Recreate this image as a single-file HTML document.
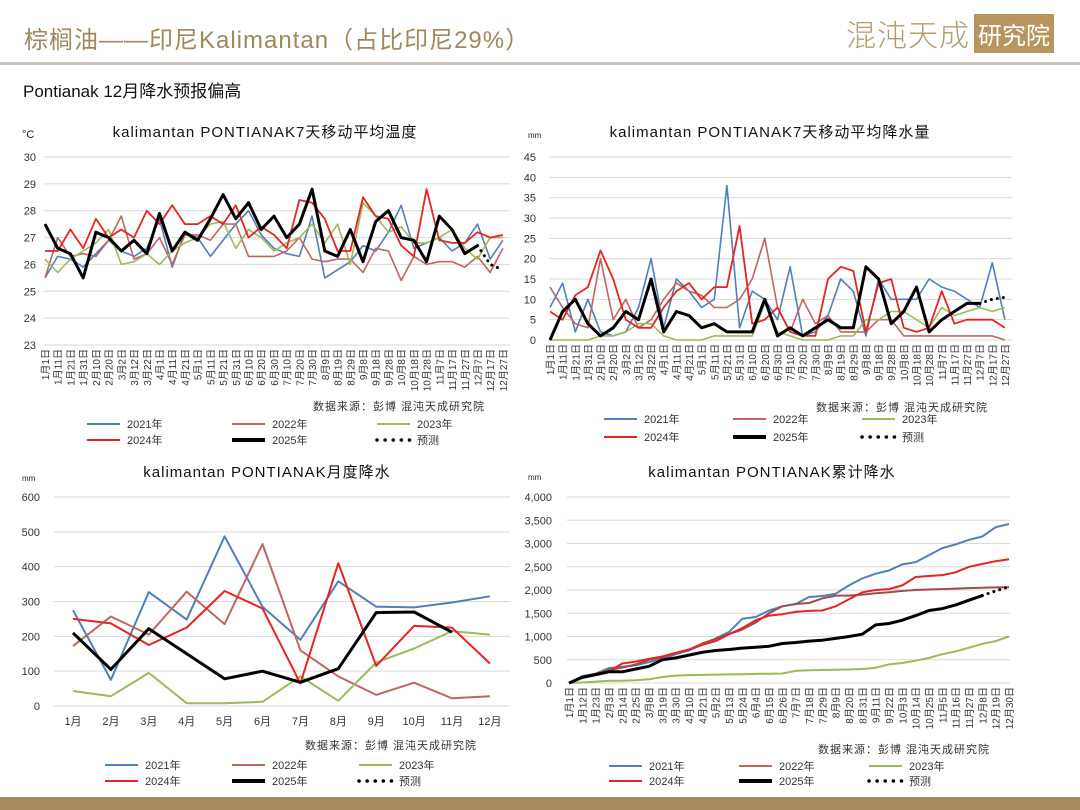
<!DOCTYPE html>
<html><head><meta charset="utf-8">
<style>
html,body{margin:0;padding:0;background:#fff;}
body{width:1080px;height:810px;position:relative;overflow:hidden;font-family:"Liberation Sans","Noto Sans CJK SC",sans-serif;}
#hdr-title{position:absolute;left:24px;top:20px;font-size:24px;color:#a3865a;letter-spacing:1px;font-family:"Liberation Sans","Noto Sans CJK SC",sans-serif;}
#hdr-line{position:absolute;left:0;top:62px;width:1080px;height:3px;background:#c9c5bd;}
#sub{position:absolute;left:23px;top:77px;font-size:17px;color:#111;font-family:"Liberation Sans","Noto Sans CJK SC",sans-serif;}
#logo{position:absolute;left:846px;top:14px;height:38px;display:flex;align-items:center;}
#logo .t{font-size:30px;color:#b89a6c;font-family:"Noto Sans CJK SC",sans-serif;font-weight:300;letter-spacing:1px;}
#logo .b{background:#b8955e;color:#fff;font-size:24px;padding:2px 4px;margin-left:4px;font-family:"Noto Sans CJK SC",sans-serif;}
#foot{position:absolute;left:0;top:797px;width:1080px;height:13px;background:#a88a5e;}
svg{position:absolute;left:0;top:0;}
</style></head><body>
<div id="hdr-title">棕榈油——印尼Kalimantan（占比印尼29%）</div>
<div id="logo"><span class="t">混沌天成</span><span class="b">研究院</span></div>
<div id="hdr-line"></div>
<div id="sub">Pontianak 12月降水预报偏高</div>
<div id="foot"></div>
<svg id="svg" width="1080" height="810" xmlns="http://www.w3.org/2000/svg"></svg>
<script>
// ---------- data ----------
const dailyLabels = ["1月1日","1月11日","1月21日","1月31日","2月10日","2月20日","3月2日","3月12日","3月22日","4月1日","4月11日","4月21日","5月1日","5月11日","5月21日","5月31日","6月10日","6月20日","6月30日","7月10日","7月20日","7月30日","8月9日","8月19日","8月29日","9月8日","9月18日","9月28日","10月8日","10月18日","10月28日","11月7日","11月17日","11月27日","12月7日","12月17日","12月27日"];
const cumLabels = ["1月1日","1月12日","1月23日","2月3日","2月14日","2月25日","3月8日","3月19日","3月30日","4月10日","4月21日","5月2日","5月13日","5月24日","6月4日","6月15日","6月26日","7月7日","7月18日","7月29日","8月9日","8月20日","8月31日","9月11日","9月22日","10月3日","10月14日","10月25日","11月5日","11月16日","11月27日","12月8日","12月19日","12月30日"];
const monthLabels = ["1月","2月","3月","4月","5月","6月","7月","8月","9月","10月","11月","12月"];
const tempTicks = [23,24,25,26,27,28,29,30];
const rainTicks = [0,5,10,15,20,25,30,35,40,45];
const monthTicks = [0,100,200,300,400,500,600];
const cumTicks = [0,500,1000,1500,2000,2500,3000,3500,4000];

const temp2021 = [25.5,26.3,26.2,25.9,26.4,26.9,26.5,26.3,26.6,27.7,25.9,27.2,27.0,26.3,26.9,27.5,28.0,27.1,26.6,26.4,26.3,27.8,25.5,25.8,26.1,26.7,26.5,27.2,28.2,26.6,26.8,27.0,26.5,26.8,27.5,26.2,26.9];
const temp2022 = [25.5,27.0,26.3,26.4,26.3,26.9,27.8,26.2,26.4,27.0,26.0,27.1,27.1,26.9,27.5,27.5,26.3,26.3,26.3,26.5,27.0,26.2,26.1,26.2,26.2,25.7,26.6,26.5,25.4,26.3,26.0,26.1,26.1,25.9,26.3,25.7,26.6];
const temp2023 = [26.2,25.7,26.2,26.5,26.8,27.3,26.0,26.1,26.4,26.0,26.5,26.8,27.0,27.5,27.6,26.6,27.3,27.0,26.5,26.8,27.0,27.5,26.8,27.5,26.0,28.3,27.8,27.2,27.4,26.8,26.8,27.0,27.3,26.6,26.2,27.0,27.0];
const temp2024 = [26.5,26.5,27.3,26.6,27.7,27.0,27.3,27.0,28.0,27.5,28.2,27.5,27.5,27.8,27.5,28.2,27.0,27.4,27.1,26.6,28.4,28.3,27.7,26.5,26.5,28.5,27.8,27.7,26.7,26.3,28.8,26.9,26.8,26.8,27.2,27.0,27.1];
const temp2025 = [27.5,26.6,26.4,25.5,27.2,27.0,26.5,26.9,26.4,27.9,26.5,27.2,26.9,27.7,28.6,27.7,28.3,27.3,27.8,27.0,27.5,28.8,26.5,26.3,27.3,26.1,27.6,28.0,27.0,26.9,26.1,27.8,27.3,26.4,26.7];
const tempFcst = [26.7,26.0,25.8];

const rain2021 = [8,14,2,10,2,1,2,8,20,3,15,12,8,10,38,3,12,10,5,18,1,2,6,15,12,1,15,10,10,10,15,13,12,10,8,19,5];
const rain2022 = [13,8,4,3,20,5,10,3,5,10,14,12,11,8,8,10,15,25,8,2,10,4,6,2,2,2,5,5,1,1,1,1,1,1,1,1,0];
const rain2023 = [0,0,0,0,1,1,2,4,4,1,0,0,0,1,1,1,1,9,2,1,0,0,0,1,1,5,5,7,7,5,3,8,6,7,8,7,8];
const rain2024 = [7,5,11,13,22,15,5,3,3,8,12,14,10,13,13,28,4,5,8,2,1,1,15,18,17,2,14,15,3,2,3,12,4,5,5,5,3];
const rain2025 = [0,7,10,4,1,3,7,5,15,2,7,6,3,4,2,2,2,10,1,3,1,3,5,3,3,18,15,4,7,13,2,5,7,9,9];
const rainFcst = [9,10,10.5];

const month2021 = [275,75,327,248,487,285,190,358,285,283,297,315];
const month2022 = [172,257,205,328,235,465,160,85,32,67,22,28];
const month2023 = [43,28,95,8,8,12,85,15,125,165,215,205];
const month2024 = [250,237,175,225,330,280,65,410,115,230,225,122];
const month2025 = [210,105,222,150,78,100,68,107,268,270,212];

const cum2021 = [0,150,200,320,350,380,450,520,620,700,830,960,1100,1380,1420,1560,1650,1700,1850,1870,1920,2100,2250,2350,2420,2550,2600,2750,2900,2980,3080,3150,3350,3420];
const cum2022 = [0,120,200,280,330,400,500,560,640,720,850,950,1050,1150,1300,1500,1650,1700,1720,1820,1880,1880,1900,1930,1950,1980,2000,2010,2020,2030,2040,2050,2055,2060];
const cum2023 = [0,10,30,50,50,60,80,130,160,170,175,180,185,190,195,200,205,260,275,280,285,290,300,330,400,430,480,540,620,680,760,840,900,1000];
const cum2024 = [0,130,200,250,420,460,520,570,650,720,820,900,1050,1180,1350,1450,1480,1530,1550,1560,1650,1800,1950,2000,2020,2100,2280,2300,2320,2380,2500,2560,2620,2660];
const cum2025 = [0,120,180,240,240,300,360,500,540,600,660,700,720,750,770,790,850,870,900,920,960,1000,1050,1250,1280,1350,1450,1560,1600,1680,1780,1880];
const cumFcst = [1880,1980,2070];

// ---------- drawing ----------
const NS = "http://www.w3.org/2000/svg";
const svg = document.getElementById('svg');
const C = {c21:"#4f7fbd", c22:"#c06660", c23:"#9bbb59", c24:"#e82420", c25:"#000"};
const FONT = '"Liberation Sans","Noto Sans CJK SC",sans-serif';
function mk(tag, attrs, parent){const e=document.createElementNS(NS,tag);for(const k in attrs)e.setAttribute(k,attrs[k]);(parent||svg).appendChild(e);return e;}
function txt(s, attrs, parent){const e=mk('text',attrs,parent);e.textContent=s;return e;}

function drawChart(cfg){
  const g = mk('g',{});
  
  
  const yS = v => cfg.yBot - (v-cfg.min)/(cfg.max-cfg.min)*(cfg.yBot-cfg.yTop);
  const xS = cfg.xS;
  cfg.ticks.forEach(t=>{
    const gl = mk('line',{x1:cfg.gx0,x2:cfg.gx1,y1:yS(t),y2:yS(t),stroke:"#d9d9d9","stroke-width":1},g);
    
    
    const tl = txt(cfg.fmt?cfg.fmt(t):String(t),{x:cfg.tickX,y:yS(t)+4,"text-anchor":"end","font-size":11,fill:"#333","font-family":FONT},g);
    
    
  });
  cfg.labels.forEach((l,i)=>{
    const x = xS(i);
    let t;
    if(cfg.rotate){
      t = txt(l,{x:0,y:0,transform:`translate(${x+4},${cfg.labY}) rotate(-90)`,"text-anchor":"end","font-size":10,fill:"#333","font-family":FONT},g);
    } else {
      t = txt(l,{x:x,y:cfg.labY,"text-anchor":"middle","font-size":11,fill:"#333","font-family":FONT},g);
    }
    
    
  });
  cfg.series.forEach(s=>{
    const off = s.offset||0;
    const pts = s.data.map((v,i)=>xS(i+off).toFixed(1)+","+yS(v).toFixed(1)).join(" ");
    const p = mk('polyline',{points:pts,fill:"none",stroke:s.color,"stroke-width":s.w,"stroke-linejoin":"round","stroke-dasharray":s.dash||"none","stroke-linecap":s.dash?"round":"butt"},g);
    
    
  });
  const tt = txt(cfg.title,{x:cfg.titleX,y:cfg.titleY,"text-anchor":"middle","font-size":15,fill:"#111","letter-spacing":"1","font-family":FONT},g);
  
  
  const ut = txt(cfg.unit,{x:cfg.unitX,y:cfg.unitY,"font-size":cfg.unit==="°C"?11:8,fill:"#222","font-family":FONT},g);
  
  
  const st = txt("数据来源：彭博  混沌天成研究院",{x:cfg.srcX,y:cfg.srcY,"font-size":11,fill:"#333","font-family":FONT,"letter-spacing":"1"},g);
  
  
  const L = [["2021年",C.c21,2,null],["2022年",C.c22,2,null],["2023年",C.c23,2,null],["2024年",C.c24,2,null],["2025年",C.c25,4,null],["预测","#000",3.5,"0.1 8"]];
  L.forEach((e,k)=>{
    const col = k%3, row = Math.floor(k/3);
    const lx = cfg.legX + col*cfg.legDX, ly = cfg.legY + row*cfg.legDY;
    const eg = mk('g',{},g);
    
    
    mk('line',{x1:lx+2,x2:lx+35,y1:ly,y2:ly,stroke:e[1],"stroke-width":e[2],"stroke-dasharray":e[3]||"none","stroke-linecap":e[3]?"round":"butt"},eg);
    txt(e[0],{x:lx+42,y:ly+4,"font-size":11,fill:"#333","font-family":FONT},eg);
  });
}

(function(){
  const x0=45,x1=508;
  drawChart({name:"temperature-chart",min:23,max:30,yTop:157,yBot:345,gx0:44,gx1:510,tickX:36,ticks:tempTicks,
    xS:i=>x0+(10*i)/364*(x1-x0),labels:dailyLabels,rotate:true,labY:349,
    title:"kalimantan PONTIANAK7天移动平均温度",titleX:265,titleY:137,unit:"°C",unitX:22,unitY:138,
    srcX:313,srcY:410,legX:85,legY:424,legDX:145,legDY:16,
    series:[{data:temp2021,color:C.c21,w:1.6,name:"line-2021"},{data:temp2022,color:C.c22,w:1.6,name:"line-2022"},{data:temp2023,color:C.c23,w:1.6,name:"line-2023"},{data:temp2024,color:C.c24,w:1.8,name:"line-2024"},{data:temp2025,color:C.c25,w:3,name:"line-2025"},{data:tempFcst,color:"#000",w:3,dash:"0.1 6",offset:34,name:"forecast-line"}]});
})();
(function(){
  const x0=550,x1=1010;
  drawChart({name:"rainfall-chart",min:0,max:45,yTop:157,yBot:340,gx0:549,gx1:1012,tickX:536,ticks:rainTicks,
    xS:i=>x0+(10*i)/364*(x1-x0),labels:dailyLabels,rotate:true,labY:344,
    title:"kalimantan PONTIANAK7天移动平均降水量",titleX:770,titleY:137,unit:"mm",unitX:528,unitY:138,
    srcX:816,srcY:411,legX:602,legY:419,legDX:129,legDY:18,
    series:[{data:rain2021,color:C.c21,w:1.6,name:"line-2021"},{data:rain2022,color:C.c22,w:1.6,name:"line-2022"},{data:rain2023,color:C.c23,w:1.6,name:"line-2023"},{data:rain2024,color:C.c24,w:1.8,name:"line-2024"},{data:rain2025,color:C.c25,w:3,name:"line-2025"},{data:rainFcst,color:"#000",w:3,dash:"0.1 6",offset:34,name:"forecast-line"}]});
})();
(function(){
  drawChart({name:"monthly-rain-chart",min:0,max:600,yTop:497,yBot:706,gx0:54,gx1:510,tickX:40,ticks:monthTicks,
    xS:i=>73+i*37.9,labels:monthLabels,rotate:false,labY:725,
    title:"kalimantan PONTIANAK月度降水",titleX:267,titleY:477,unit:"mm",unitX:22,unitY:481,
    srcX:305,srcY:749,legX:103,legY:765,legDX:127,legDY:16,
    series:[{data:month2021,color:C.c21,w:2,name:"line-2021"},{data:month2022,color:C.c22,w:2,name:"line-2022"},{data:month2023,color:C.c23,w:2,name:"line-2023"},{data:month2024,color:C.c24,w:2,name:"line-2024"},{data:month2025,color:C.c25,w:3,name:"line-2025"}]});
})();
(function(){
  const x0=569,x1=1009;
  drawChart({name:"cumulative-rain-chart",min:0,max:4000,yTop:497,yBot:683,gx0:567,gx1:1010,tickX:552,ticks:cumTicks,fmt:t=>t.toLocaleString('en-US'),
    xS:i=>x0+(11*i)/363*(x1-x0),labels:cumLabels,rotate:true,labY:687,
    title:"kalimantan PONTIANAK累计降水",titleX:772,titleY:477,unit:"mm",unitX:528,unitY:480,
    srcX:818,srcY:753,legX:607,legY:766,legDX:130,legDY:15,
    series:[{data:cum2021,color:C.c21,w:2,name:"line-2021"},{data:cum2022,color:"#a04c48",w:2,name:"line-2022"},{data:cum2023,color:C.c23,w:2,name:"line-2023"},{data:cum2024,color:C.c24,w:2,name:"line-2024"},{data:cum2025,color:C.c25,w:3,name:"line-2025"},{data:cumFcst,color:"#000",w:3,dash:"0.1 6",offset:31,name:"forecast-line"}]});
})();
</script>
</body></html>
